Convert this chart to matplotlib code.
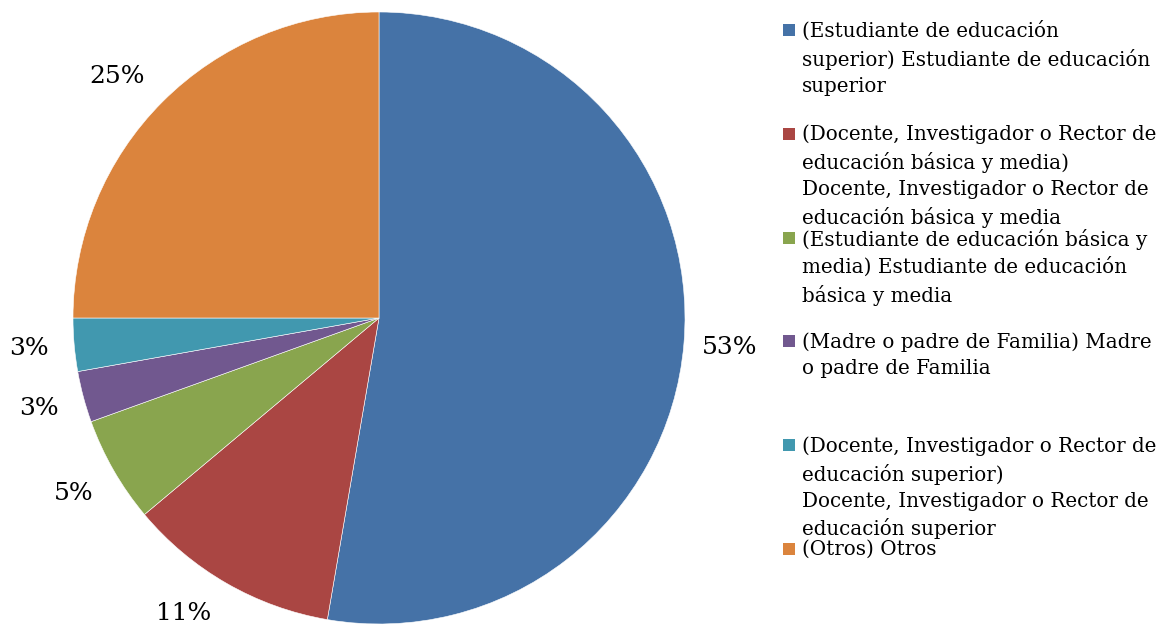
import numpy as np
import matplotlib
matplotlib.use('Agg')
import matplotlib.pyplot as plt
from matplotlib.patches import Rectangle

categories = [
    '(Estudiante de educación\nsuperior) Estudiante de educación\nsuperior',
    '(Docente, Investigador o Rector de\neducación básica y media)\nDocente, Investigador o Rector de\neducación básica y media',
    '(Estudiante de educación básica y\nmedia) Estudiante de educación\nbásica y media',
    '(Madre o padre de Familia) Madre\no padre de Familia',
    '(Docente, Investigador o Rector de\neducación superior)\nDocente, Investigador o Rector de\neducación superior',
    '(Otros) Otros',
]
values = [52.7, 11.2, 5.6, 2.7, 2.8, 25.0]
pct_labels = ['53%', '11%', '5%', '3%', '3%', '25%']
colors = ['#4572A7', '#AA4643', '#89A54E', '#71588F', '#4198AF', '#DB843D']

# small nudges of the labels (data units) to sit like Excel puts them
nudge = [(0, 0), (-0.065, 0.033), (0, 0), (0, 0), (0, 0), (-0.042, -0.023)]

W, H = 1164, 631
plt.rcParams['font.family'] = ['DejaVu Serif']

fig = plt.figure(figsize=(W / 100, H / 100), dpi=100)
# pie area: centre (379, 318), radius 306 px
ax = fig.add_axes([73 / W, (H - 624) / H, 612 / W, 612 / H])
wedges, _ = ax.pie(values, colors=colors, startangle=90, counterclock=False,
                   radius=1, wedgeprops=dict(edgecolor='white', linewidth=0.4))
ax.set_xlim(-1, 1)
ax.set_ylim(-1, 1)
ax.set_aspect('equal')
ax.axis('off')

# percentage labels outside the slices
for w, lab, (dx, dy) in zip(wedges, pct_labels, nudge):
    mid = np.deg2rad((w.theta1 + w.theta2) / 2)
    ax.text(1.15 * np.cos(mid) + dx, 1.15 * np.sin(mid) + dy, lab,
            ha='center', va='center', fontsize=18, color='black')

# legend, Excel style: fixed step between entries
y0, step = 30, 103.8
for i, (txt, c) in enumerate(zip(categories, colors)):
    yc = y0 + i * step
    fig.patches.append(Rectangle((783 / W, 1 - (yc + 6) / H), 12 / W, 12 / H,
                                 transform=fig.transFigure, facecolor=c,
                                 edgecolor='none'))
    fig.text(802 / W, 1 - (yc - 9) / H, txt, ha='left', va='top',
             fontsize=14.3, linespacing=1.46, color='black')

fig.savefig('out.png', dpi=100)
